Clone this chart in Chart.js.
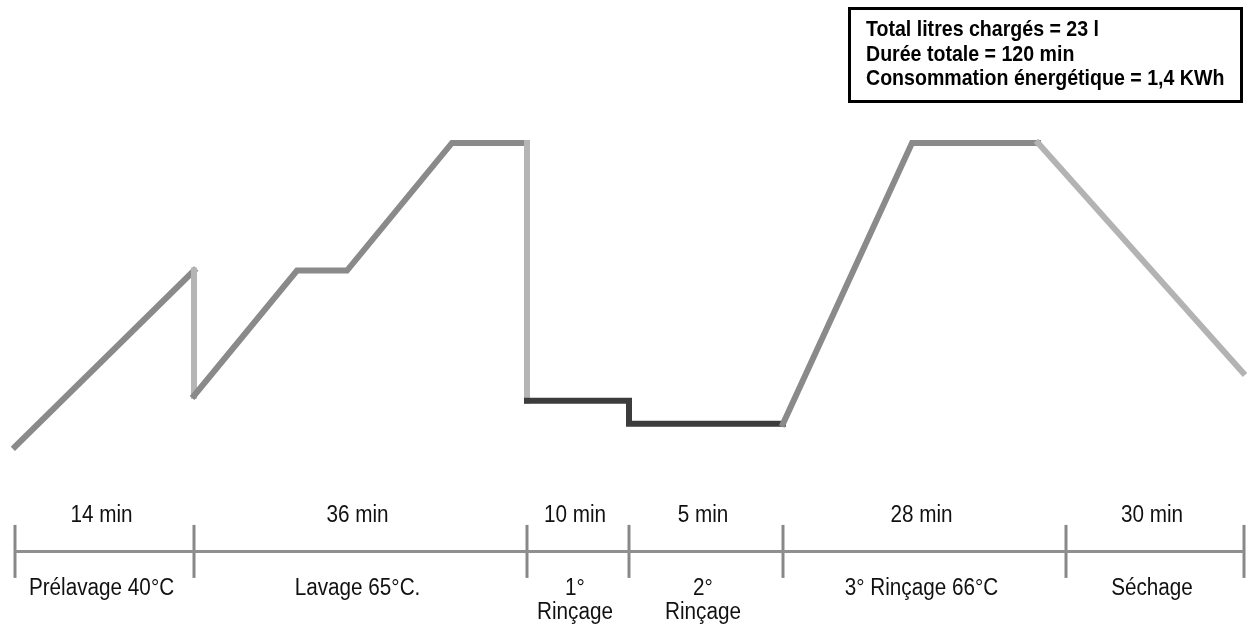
<!DOCTYPE html>
<html lang="fr">
<head>
<meta charset="UTF-8">
<title>Cycle de lavage</title>
<script src="https://cdn.jsdelivr.net/npm/chart.js"></script>
<style>
  body { margin: 0; background: #fff; }
  .wrap { position: relative; width: 1247px; height: 628px; }
  .info-box {
    position: absolute; left: 848px; top: 7px;
    width: 395px; height: 96px; box-sizing: border-box;
    border: 3px solid #000; padding: 7px 0 0 15px;
    color: #000; white-space: nowrap; overflow: hidden;
  }
  .info-box div {
    font: bold 22.5px "Liberation Sans", Arial, sans-serif;
    line-height: 24.5px;
    transform: scaleX(0.87); transform-origin: left center;
  }
</style>
</head>
<body>
<div class="wrap">
  <canvas id="cycleChart"></canvas>
  <div class="info-box">
    <div>Total litres chargés = 23 l</div>
    <div>Durée totale = 120 min</div>
    <div>Consommation énergétique = 1,4 KWh</div>
  </div>
</div>

<script>
  // phases of the cycle (schematic widths, not to time scale)
  const phaseMinutes = ['14 min', '36 min', '10 min', '5 min', '28 min', '30 min'];
  const phaseNames = [['Prélavage 40°C'], ['Lavage 65°C.'], ['1°', 'Rinçage'], ['2°', 'Rinçage'], ['3° Rinçage 66°C'], ['Séchage']];
  const phaseEdges = [15, 194, 527, 629, 783, 1066, 1244];

  // temperature profile (°C) along the diagram
  const profileX = [15, 194, 194, 297, 347, 452, 527, 527, 629, 629, 783, 912, 1038, 1243];
  const profileTemp = [5.5, 40, 15.5, 40, 40, 65, 65, 14.5, 14.5, 10, 10, 65, 65, 20];
  // kind of each segment between two profile points
  const segmentKind = ['heat', 'drain', 'heat', 'heat', 'heat', 'heat', 'drain', 'rinse', 'rinse', 'rinse', 'heat', 'heat', 'cool'];

  const timelineLevel = -15;

  const shades = { heat: '#8a8a8a', drain: '#b5b5b5', rinse: '#3c3c3c', cool: '#b3b3b3' };
  const labelFont = '23px "Liberation Sans", Arial, sans-serif';
  const narrow = 0.9; // squeeze Arial into a condensed look

  function drawNarrow(ctx, txt, x, y) {
    ctx.save();
    ctx.translate(x, y);
    ctx.scale(narrow, 1);
    ctx.fillText(txt, 0, 0);
    ctx.restore();
  }

  const phaseLabels = {
    id: 'phaseLabels',
    afterDatasetsDraw(chart) {
      const { ctx, scales: { x, y } } = chart;
      const lineY = y.getPixelForValue(timelineLevel);
      ctx.save();
      ctx.fillStyle = '#111';
      ctx.font = labelFont;
      ctx.textAlign = 'center';
      ctx.textBaseline = 'middle';
      phaseMinutes.forEach((txt, i) => {
        const cx = x.getPixelForValue((phaseEdges[i] + phaseEdges[i + 1]) / 2) - 3;
        drawNarrow(ctx, txt, cx, lineY - 36);
        phaseNames[i].forEach((ln, j) => drawNarrow(ctx, ln, cx, lineY + 37 + j * 24));
      });
      ctx.restore();
    }
  };

  new Chart(document.getElementById('cycleChart'), {
    type: 'scatter',
    data: {
      datasets: [
        {
          data: profileX.map((v, i) => ({ x: v, y: profileTemp[i] })),
          showLine: true,
          borderWidth: 6,
          borderCapStyle: 'square',
          borderJoinStyle: 'miter',
          pointRadius: 0,
          clip: false,
          segment: {
            borderColor: c => shades[segmentKind[c.p0DataIndex]]
          }
        },
        {
          data: [{ x: phaseEdges[0], y: timelineLevel }, { x: phaseEdges[phaseEdges.length - 1], y: timelineLevel }],
          showLine: true,
          borderColor: '#8f8f8f',
          borderWidth: 3,
          pointRadius: 0,
          clip: false
        },
        {
          data: phaseEdges.map(v => ({ x: v, y: timelineLevel })),
          showLine: false,
          pointStyle: 'line',
          rotation: 90,
          pointRadius: 26.5,
          pointHoverRadius: 26.5,
          pointBorderWidth: 3,
          pointBorderColor: '#888',
          clip: false
        }
      ]
    },
    options: {
      responsive: true,
      maintainAspectRatio: false,
      animation: false,
      events: [],
      layout: { padding: 0, autoPadding: false },
      scales: {
        x: { type: 'linear', min: 0, max: 1247, display: false },
        y: { min: -30, max: 93, display: false }
      },
      plugins: {
        legend: { display: false },
        tooltip: { enabled: false }
      }
    },
    plugins: [phaseLabels]
  });
</script>
</body>
</html>
